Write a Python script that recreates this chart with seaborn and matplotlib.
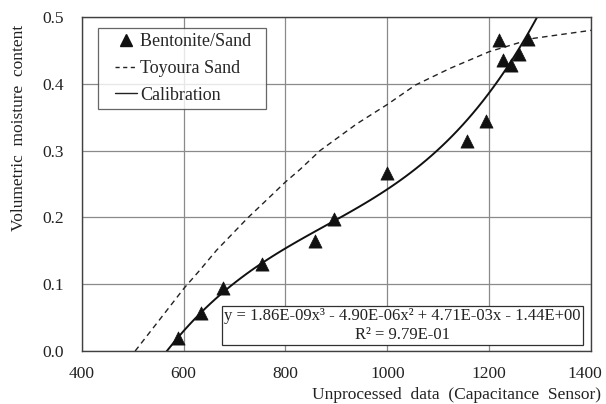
import matplotlib
matplotlib.use("Agg")
import matplotlib.pyplot as plt
import matplotlib.transforms as mtrans
import seaborn as sns
import pandas as pd
from matplotlib.lines import Line2D
from matplotlib.legend_handler import HandlerLine2D

# Bentonite/Sand measurements
bent_x = [590, 634, 678, 755, 858, 896, 1000, 1156, 1194, 1220, 1228, 1243, 1259, 1277]
bent_y = [0.020, 0.057, 0.094, 0.130, 0.164, 0.198, 0.266, 0.314, 0.344, 0.466, 0.435, 0.428, 0.444, 0.467]

# Toyoura Sand calibration curve
toy_x = [505, 550, 601, 632, 665, 727, 763, 800, 829, 868, 940, 1000, 1055, 1123, 1200, 1287, 1400]
toy_y = [0.000, 0.044, 0.094, 0.121, 0.151, 0.200, 0.226, 0.253, 0.272, 0.300, 0.340, 0.369, 0.398, 0.423, 0.448, 0.468, 0.480]

x_ticks = [400, 600, 800, 1000, 1200, 1400]
y_ticks = [0.0, 0.1, 0.2, 0.3, 0.4, 0.5]

eq_text = "y = 1.86E-09x\u00b3 - 4.90E-06x\u00b2 + 4.71E-03x - 1.44E+00\nR\u00b2 = 9.79E-01"

sns.set_theme(style="white")
plt.rcParams['font.family'] = ['Liberation Serif', 'DejaVu Serif']

fig = plt.figure(figsize=(6.06, 4.04), dpi=100)
ax = fig.add_axes([0.1347, 0.131, 0.9753 - 0.1347, 0.958 - 0.131])

ax.set_xlim(400, 1400)
ax.set_ylim(0, 0.5)
ax.set_xticks(x_ticks)
ax.set_yticks(y_ticks)
ax.set_xticklabels([str(v) for v in x_ticks])
ax.set_yticklabels([f"{v:.1f}" for v in y_ticks])
ax.grid(True, color="#8a8a8a", linewidth=0.9)
ax.set_axisbelow(True)
for s in ax.spines.values():
    s.set_color("#404040")
    s.set_linewidth(1.0)
ax.tick_params(axis="both", length=0, labelsize=12.5, colors="#222222")
ax.tick_params(axis="x", pad=10.5)
ax.tick_params(axis="y", pad=13)

last = ax.get_xticklabels()[-1]
last.set_transform(last.get_transform() + mtrans.ScaledTranslation(-6 / 100, 0, fig.dpi_scale_trans))

bent = pd.DataFrame({"x": bent_x, "y": bent_y})
toy = pd.DataFrame({"x": toy_x, "y": toy_y})

sns.lineplot(data=toy, x="x", y="y", ax=ax, color="#222222", linestyle=(0, (4, 3)),
             linewidth=1.0, legend=False, sort=True)
sns.regplot(data=bent, x="x", y="y", order=3, ci=None, truncate=False, scatter=False,
            ax=ax, line_kws={"color": "#111111", "linewidth": 1.4})
sns.scatterplot(data=bent, x="x", y="y", ax=ax, marker="^", s=90, color="#111111",
                edgecolor="#111111", linewidth=0.5, legend=False, zorder=5)

ax.set_xlim(400, 1400)
ax.set_ylim(0, 0.5)

ax.set_xlabel("Unprocessed  data  (Capacitance  Sensor)", fontsize=12.5, color="#222222")
ax.xaxis.set_label_coords(0.735, -0.132)
ax.xaxis.label.set_va("center")
ax.set_ylabel("Volumetric  moisture  content", fontsize=12.5, color="#222222")
ax.yaxis.set_label_coords(-0.123, 0.668)
ax.yaxis.label.set_va("center")

handles = [
    Line2D([], [], marker="^", linestyle="none", color="#111111", markersize=8),
    Line2D([], [], linestyle=(0, (3, 2.5)), color="#222222", linewidth=1.0),
    Line2D([], [], linestyle="-", color="#222222", linewidth=1.0),
]
leg = ax.legend(handles, ["Bentonite/Sand  ", "Toyoura Sand", "Calibration"],
                loc="upper left", bbox_to_anchor=(0.032, 0.968), fontsize=13,
                frameon=True, fancybox=False, handlelength=1.85, handletextpad=0.15,
                labelspacing=0.53, borderpad=0.32, borderaxespad=0,
                handler_map={Line2D: HandlerLine2D(xpad=0.65)})
leg.get_frame().set_edgecolor("#404040")
leg.get_frame().set_linewidth(0.9)

ax.text(0.98, 0.025, eq_text, transform=ax.transAxes, ha="right", va="bottom",
        fontsize=12, color="#222222", multialignment="center", linespacing=1.2,
        bbox=dict(boxstyle="square,pad=0.12", facecolor="white", edgecolor="#303030", linewidth=0.9),
        zorder=6)

fig.savefig("out.png", dpi=100)
